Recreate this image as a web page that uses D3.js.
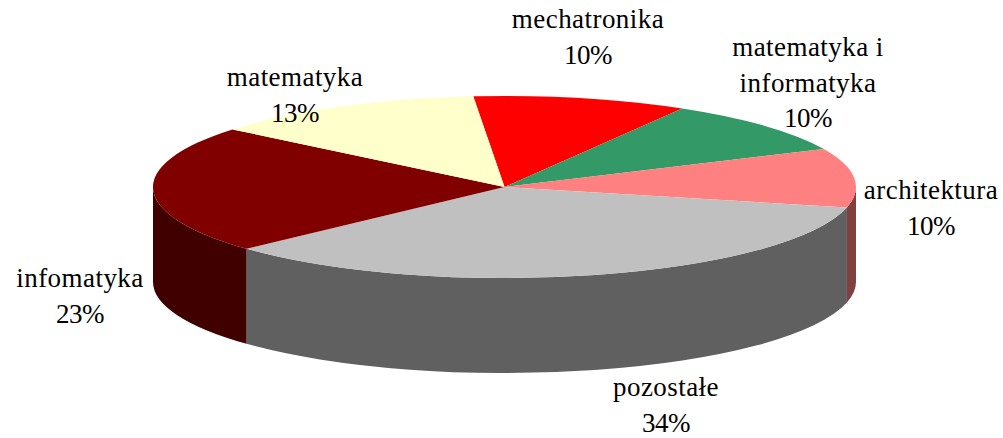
<!DOCTYPE html>
<html>
<head>
<meta charset="utf-8">
<script src="https://cdnjs.cloudflare.com/ajax/libs/d3/7.8.5/d3.min.js"></script>
<style>
html,body{margin:0;padding:0;background:#fff;overflow:hidden}
text{font-family:"Liberation Serif","Times New Roman",serif;font-size:27px;fill:#000;text-anchor:middle}
text.word{letter-spacing:.45px}
text.pct{letter-spacing:-.5px}
</style>
</head>
<body>
<svg id="c" width="1003" height="438"></svg>
<script>
const categories = ["mechatronika","matematyka i informatyka","architektura","pozostałe","infomatyka","matematyka"];
const values = [9.85,9.7,10.49,34.49,22.8,12.67];
const percentLabels = ["10%","10%","10%","34%","23%","13%"];
const topColors = ["#ff0000","#339966","#ff8080","#c0c0c0","#800000","#ffffcc"];
const wallColors = ["#800000","#1a4d33","#804040","#606060","#400000","#808066"];
const labelLines = [["mechatronika","10%"],["matematyka i","informatyka","10%"],["architektura","10%"],["pozostałe","34%"],["infomatyka","23%"],["matematyka","13%"]];
const labelCenters = [[588,28],[808,56],[931,199],[666,396],[80,287],[295,86]];

const W=1003,H=438,cx=504.5,cy=187,rx=351.5,ry=91,depth=95,lineGap=35.7;
const rad=Math.PI/180, startDeg=-5.1;
const squash=ry/rx;
const svg=d3.select("#c");
const pie=d3.pie().sort(null).value(d=>d).startAngle(startDeg*rad).endAngle((startDeg+360)*rad);
const arcs=pie(values);
const arcGen=d3.arc().innerRadius(0).outerRadius(rx);
const g=svg.append("g").attr("transform",`translate(${cx},${cy}) scale(1,${squash})`);

// Front walls: only the part of each slice that faces the viewer
const dz=depth/squash, toCanvas=t=>t-Math.PI/2;
arcs.forEach((a,i)=>{
  for(const off of [0,2*Math.PI]){
    const s=Math.max(a.startAngle+off,Math.PI/2), e=Math.min(a.endAngle+off,Math.PI*1.5);
    if(e<=s) continue;
    const p=d3.path();
    p.arc(0,0,rx,toCanvas(s),toCanvas(e),false);
    p.lineTo(rx*Math.sin(e),-rx*Math.cos(e)+dz);
    p.arc(0,dz,rx,toCanvas(e),toCanvas(s),true);
    p.closePath();
    g.append("path").attr("d",p.toString()).attr("fill",wallColors[i]);
  }
});
// Top face
g.selectAll("path.top").data(arcs).enter().append("path").attr("class","top")
  .attr("d",arcGen).attr("fill",(d,i)=>topColors[i]);

// Labels
labelLines.forEach((lines,i)=>{
  lines.forEach((t,j)=>{
    svg.append("text").attr("class",j===lines.length-1?"pct":"word")
      .attr("x",labelCenters[i][0]).attr("y",labelCenters[i][1]+j*lineGap).text(t);
  });
});
</script>
</body>
</html>
